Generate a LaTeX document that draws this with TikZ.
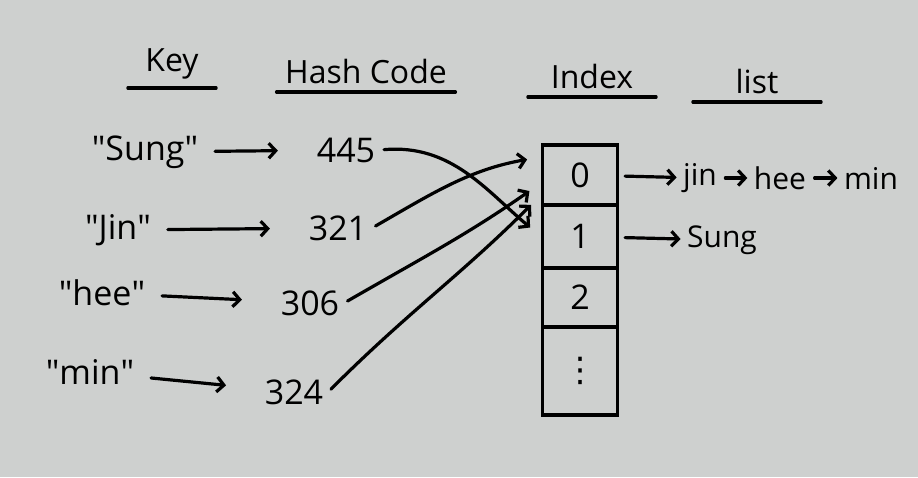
\documentclass[tikz,border=0pt]{standalone}
\usepackage{fontspec}
\setmainfont{Open Sans}
\newfontfamily\symfont{DejaVu Sans}
\usetikzlibrary{arrows.meta}
\definecolor{paper}{RGB}{206,208,207}

\begin{document}
\begin{tikzpicture}[x=1pt,y=1pt,line width=3.2pt,line cap=round,
    >={Straight Barb[length=7pt,width=15pt]},
    hand/.style={font=\fontsize{34}{36}\selectfont},
    chain/.style={font=\fontsize{30}{32}\selectfont,inner sep=1pt},
    head/.style={font=\fontsize{32}{34}\selectfont,inner sep=7pt,anchor=south},
    slotbox/.style={draw,minimum width=75pt,inner sep=0pt,hand}]
            \fill[paper] (0,0) rectangle (918,-477);
            % headers
            \node[head,minimum width=85pt] (hkey) at (172,-88) {Key};
            \node[head,minimum width=162pt] (hcode) at (366,-92) {Hash Code};
            \node[head,minimum width=125pt] (hindex) at (592,-97) {Index};
            \node[head,minimum width=125pt] (hlist) at (757,-102) {list};
            \foreach \h in {hkey,hcode,hindex,hlist}
              \draw (\h.south west) -- (\h.south east);
            % keys and hash codes
            \node[hand] (ksung) at (145,-152) {\textquotedbl Sung\textquotedbl};
            \node[hand] (kjin) at (118,-230) {\textquotedbl Jin\textquotedbl};
            \node[hand] (khee) at (102,-293) {\textquotedbl hee\textquotedbl};
            \node[hand] (kmin) at (90,-372) {\textquotedbl min\textquotedbl};
            \node[hand] (h445) at (346,-150) {445};
            \node[hand] (h321) at (338,-228) {321};
            \node[hand] (h306) at (310,-303) {306};
            \node[hand] (h324) at (294,-392) {324};
            \path[->,shorten >=34pt,shorten <=12pt] (ksung) edge (h445) (kjin) edge (h321)
              (khee) edge (h306) (kmin) edge (h324);
            % bucket array
            \node[slotbox,minimum height=60pt] (slot0) at (580,-175) {0};
            \node[slotbox,minimum height=63pt] (slot1) at (580,-236.5) {1};
            \node[slotbox,minimum height=59pt] (slot2) at (580,-297.5) {2};
            \node[slotbox,minimum height=88pt] (slotdots) at (580,-371) {\symfont ⋮};
            \path[->,shorten >=14pt,shorten <=4pt]
              (h445.east) edge[out=5,in=140] (slot1.west)
              (h321.east) edge[out=30,in=190] ([yshift=18pt]slot0.west)
              (h306.east) edge[out=30,in=215] ([yshift=-8pt]slot0.west)
              (h324.east) edge[out=45,in=225] ([yshift=-20pt]slot0.west);
            % chains
            \node[chain] (ljin) at (700,-178) {jin};
            \node[chain] (lhee) at (780,-178) {hee};
            \node[chain] (lmin) at (871,-178) {min};
            \node[chain] (lsung) at (722,-240) {Sung};
            \path[->,shorten <=6pt,shorten >=4pt] (slot0) edge (ljin) (ljin) edge (lhee)
              (lhee) edge (lmin) (slot1) edge (lsung);
\end{tikzpicture}
\end{document}
